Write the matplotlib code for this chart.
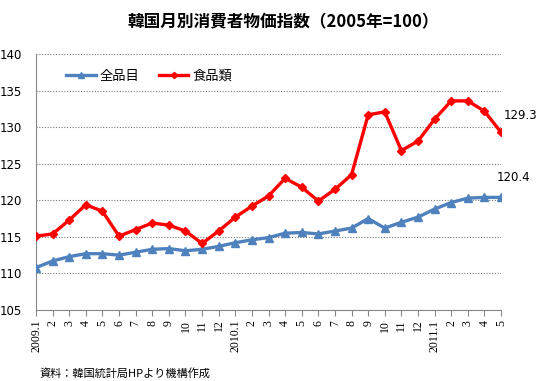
import matplotlib
matplotlib.use("Agg")
import matplotlib.pyplot as plt
import numpy as np

plt.rcParams['font.family'] = ['Noto Sans CJK JP', 'DejaVu Sans']

months = ["2009.1", "2", "3", "4", "5", "6", "7", "8", "9", "10", "11", "12",
          "2010.1", "2", "3", "4", "5", "6", "7", "8", "9", "10", "11", "12",
          "2011.1", "2", "3", "4", "5"]
all_items = [110.8, 111.7, 112.3, 112.7, 112.7, 112.5, 112.9, 113.3, 113.4, 113.1, 113.3, 113.7,
             114.2, 114.6, 114.9, 115.5, 115.6, 115.4, 115.8, 116.2, 117.5, 116.2, 117.0, 117.7,
             118.8, 119.7, 120.3, 120.4, 120.4]
food = [115.1, 115.4, 117.3, 119.4, 118.5, 115.1, 116.0, 116.9, 116.6, 115.8, 114.1, 115.8,
        117.7, 119.2, 120.6, 123.0, 121.8, 119.9, 121.5, 123.5, 131.7, 132.1, 126.8, 128.1,
        131.1, 133.6, 133.6, 132.2, 129.3]
series_names = ["全品目", "食品類"]
yticks = [105, 110, 115, 120, 125, 130, 135, 140]

fig = plt.figure(figsize=(5.4, 3.81), dpi=100)
ax = fig.add_axes([0.0667, 0.1864, 0.8611, 0.6716])
x = np.arange(len(months))

ax.plot(x, all_items, color="#4F81BD", lw=2.4, marker="^", ms=6, label=series_names[0], zorder=3)
ax.plot(x, food, color="#FF0000", lw=2.4, marker="D", ms=4.5, label=series_names[1], zorder=4)

ax.set_xlim(0, len(months) - 1)
ax.set_ylim(105, 140)
ax.set_yticks(yticks)
ax.set_yticklabels([str(v) for v in yticks], fontsize=8.5, family=['DejaVu Sans'])
ax.set_xticks(x)
ax.set_xticklabels(months, rotation=90, fontsize=8.5, family=['Liberation Serif'])
ax.tick_params(axis='x', direction='out', length=4, color='#888888', pad=3)
ax.tick_params(axis='y', length=0, pad=10)
for s in ['top', 'right']:
    ax.spines[s].set_visible(False)
ax.spines['left'].set_color('#888888')
ax.spines['bottom'].set_color('#888888')
ax.yaxis.grid(True, linestyle=(0, (1, 1.5)), color='#777777', lw=0.8)
ax.set_axisbelow(True)

ax.annotate(f"{food[-1]}", (x[-1], food[-1]), xytext=(2, 12), textcoords='offset points',
            fontsize=8.5, family=['DejaVu Sans'], ha='left', va='center', annotation_clip=False)
ax.annotate(f"{all_items[-1]}", (x[-1], all_items[-1]), xytext=(-3, 14), textcoords='offset points',
            fontsize=8.5, family=['DejaVu Sans'], ha='left', va='center', annotation_clip=False)

leg = ax.legend(loc='upper left', bbox_to_anchor=(0.04, 0.985), ncol=2, frameon=False,
                fontsize=9.5, handlelength=2.2, handletextpad=0.3, columnspacing=1.5, markerscale=0.7)

fig.text(0.525, 0.942, "韓国月別消費者物価指数（2005年=100）", ha='center', va='center',
         fontsize=12, fontweight='bold')
fig.text(0.074, 0.021, "資料：韓国統計局HPより機構作成", ha='left', va='center', fontsize=8)

fig.savefig("out.png", dpi=100)
